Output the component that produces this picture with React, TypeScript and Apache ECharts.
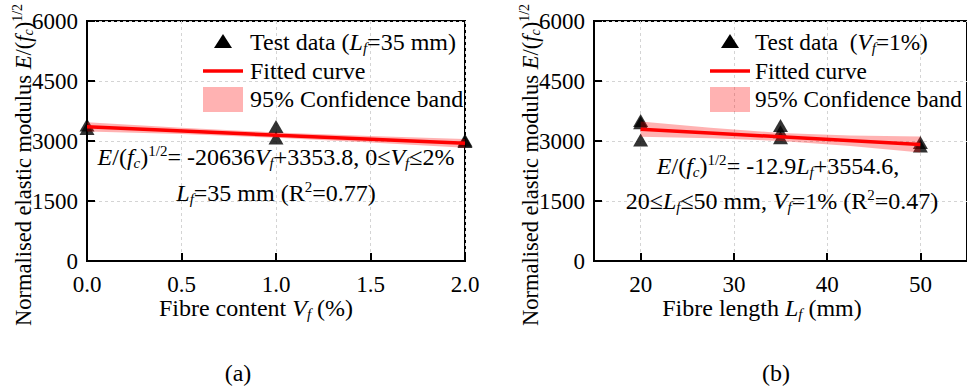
import React, { useEffect, useRef } from "react";
import * as echarts from "echarts";

// ---- data ----
// (a) fibre content
const vfX = [0, 0, 1, 1, 2, 2];
const vfY = [3400, 3310, 3360, 3075, 3020, 2990];
const vfLineX = [0, 2];
const vfLineY = [3353.8, 2941.1];
const vfBandX = [0, 0.5, 1, 1.5, 2];
const vfBandLow = [3240, 3175, 3080, 2965, 2830];
const vfBandHigh = [3470, 3330, 3215, 3125, 3050];
const vfTicks = [0, 0.5, 1, 1.5, 2];

// (b) fibre length
const lfX = [20, 20, 20, 35, 35, 35, 50, 50];
const lfY = [3510, 3455, 3025, 3390, 3230, 3080, 2960, 2875];
const lfLineX = [20, 50];
const lfLineY = [3296.6, 2909.6];
const lfBandX = [20, 27.5, 35, 42.5, 50];
const lfBandLow = [3106, 3070, 3003, 2876, 2710];
const lfBandHigh = [3487, 3330, 3203, 3136, 3110];
const lfTicks = [20, 30, 40, 50];

const FONT = "Liberation Serif";
const FS = 24;
const TICK_FS = 23;

function makeRich(size: number) {
  const small = Math.round(size * 0.63);
  const shift = Math.round(size * 0.5);
  return {
    n: { fontFamily: FONT, fontSize: size, color: "#000", fontStyle: "normal" },
    i: { fontFamily: FONT, fontSize: size, color: "#000", fontStyle: "italic" },
    sub: { fontFamily: FONT, fontSize: small, color: "#000", fontStyle: "italic", padding: [shift, 0, 0, 0] },
    sup: { fontFamily: FONT, fontSize: small, color: "#000", fontStyle: "normal", padding: [0, 0, shift, 0] },
  };
}
const rich = makeRich(FS);
const richY = makeRich(22.5);
const richLegB = makeRich(23.3);

const zip = (a: number[], b: number[]) => a.map((v, k) => [v, b[k]]);

function bandSeries(xIdx: number, xs: number[], lo: number[], hi: number[]) {
  return {
    type: "custom",
    xAxisIndex: xIdx,
    yAxisIndex: xIdx,
    z: 3,
    clip: true,
    data: xs.map((x, k) => [x, lo[k], hi[k]]),
    encode: { x: 0, y: [1, 2] },
    renderItem: (params: any, api: any) => {
      if (params.dataIndex !== 0) return null;
      const upper = xs.map((x, k) => api.coord([x, hi[k]]));
      const lower = xs.map((x, k) => api.coord([x, lo[k]])).reverse();
      return {
        type: "polygon",
        shape: { points: upper.concat(lower) },
        style: { fill: "rgba(255,0,0,0.3)" },
      };
    },
  };
}

function txt(x: number, y: number, text: string, align = "left", rotation = 0, r: any = rich, size = FS) {
  return {
    type: "text",
    x,
    y,
    rotation,
    z: 100,
    style: {
      text,
      rich: r,
      fontFamily: FONT,
      fontSize: size,
      fill: "#000",
      align,
      verticalAlign: "middle",
    },
  };
}

function legend(ix: number, tx: number, first: string, r: any, size: number) {
  return [
    {
      type: "polygon",
      z: 100,
      shape: { points: [[ix + 20, 34], [ix + 11, 48], [ix + 29, 48]] },
      style: { fill: "#000" },
    },
    {
      type: "line",
      z: 100,
      shape: { x1: ix, y1: 71, x2: ix + 40, y2: 71 },
      style: { stroke: "#ff0000", lineWidth: 3.5 },
    },
    {
      type: "rect",
      z: 100,
      shape: { x: ix, y: 87, width: 40, height: 25 },
      style: { fill: "rgba(255,0,0,0.3)" },
    },
    txt(tx, 42, first, "left", 0, r, size),
    txt(tx, 71, "{n|Fitted curve}", "left", 0, r, size),
    txt(tx, 99, "{n|95% Confidence band}", "left", 0, r, size),
  ];
}

function xAxis(idx: number, min: number, max: number, ticks: number[], fmt: (v: number) => string) {
  return {
    type: "value",
    gridIndex: idx,
    min,
    max,
    axisLine: { show: true, onZero: false, lineStyle: { color: "#000", width: 2 } },
    axisTick: { show: true, inside: true, length: 8, customValues: ticks, lineStyle: { color: "#000", width: 2 } },
    axisLabel: {
      customValues: ticks,
      margin: 12,
      fontFamily: FONT,
      fontSize: TICK_FS,
      color: "#000",
      formatter: fmt,
    },
    splitLine: { show: true, lineStyle: { color: "#d4d4d4", width: 1, type: [3, 3] } },
  };
}

function yAxis(idx: number) {
  return {
    type: "value",
    gridIndex: idx,
    min: 0,
    max: 6000,
    interval: 1500,
    axisLine: { show: true, onZero: false, lineStyle: { color: "#000", width: 2 } },
    axisTick: { show: true, inside: true, length: 8, lineStyle: { color: "#000", width: 2 } },
    axisLabel: { margin: 9, fontFamily: FONT, fontSize: TICK_FS, color: "#000", formatter: (v: number) => String(v) },
    splitLine: { show: true, lineStyle: { color: "#d4d4d4", width: 1, type: [3, 3] } },
  };
}

export default function App() {
  const ref = useRef<HTMLDivElement>(null);
  useEffect(() => {
    if (!ref.current) return;
    const chart = echarts.init(ref.current, undefined, { renderer: "svg" });
    chart.setOption({
      animation: false,
      backgroundColor: "#fff",
      textStyle: { fontFamily: FONT },
      grid: [
        { left: 87, top: 21, width: 378, height: 240, show: true, borderColor: "#000", borderWidth: 2, backgroundColor: "transparent" },
        { left: 594, top: 21, width: 378, height: 240, show: true, borderColor: "#000", borderWidth: 2, backgroundColor: "transparent" },
      ],
      xAxis: [
        xAxis(0, 0, 2, vfTicks, (v: number) => v.toFixed(1)),
        xAxis(1, 15, 55, lfTicks, (v: number) => String(v)),
      ],
      yAxis: [yAxis(0), yAxis(1)],
      series: [
        {
          type: "scatter",
          name: "Test data (Lf=35 mm)",
          xAxisIndex: 0,
          yAxisIndex: 0,
          symbol: "triangle",
          symbolSize: [15, 13],
          itemStyle: { color: "#000" },
          z: 2,
          data: zip(vfX, vfY),
        },
        bandSeries(0, vfBandX, vfBandLow, vfBandHigh),
        {
          type: "line",
          name: "Fitted curve",
          xAxisIndex: 0,
          yAxisIndex: 0,
          symbol: "none",
          z: 4,
          lineStyle: { color: "#ff0000", width: 3.5 },
          data: zip(vfLineX, vfLineY),
        },
        {
          type: "scatter",
          name: "Test data (Vf=1%)",
          xAxisIndex: 1,
          yAxisIndex: 1,
          symbol: "triangle",
          symbolSize: [15, 13],
          itemStyle: { color: "#000" },
          z: 2,
          data: zip(lfX, lfY),
        },
        bandSeries(1, lfBandX, lfBandLow, lfBandHigh),
        {
          type: "line",
          name: "Fitted curve (b)",
          xAxisIndex: 1,
          yAxisIndex: 1,
          symbol: "none",
          z: 4,
          lineStyle: { color: "#ff0000", width: 3.5 },
          data: zip(lfLineX, lfLineY),
        },
      ],
      graphic: [
        ...legend(203, 250, "{n|Test data (}{i|L}{sub|f}{n|=35 mm)}", rich, FS),
        ...legend(710, 755, "{n|Test data  (}{i|V}{sub|f}{n|=1%)}", richLegB, 23.3),
        txt(276, 157, "{i|E}{n|/(}{i|f}{sub|c}{n|)}{sup|1/2}{n|= -20636}{i|V}{sub|f}{n|+3353.8, 0≤}{i|V}{sub|f}{n|≤2%}", "center"),
        txt(276, 193, "{i|L}{sub|f}{n|=35 mm (R}{sup|2}{n|=0.77)}", "center"),
        txt(778, 166, "{i|E}{n|/(}{i|f}{sub|c}{n|)}{sup|1/2}{n|= -12.9}{i|L}{sub|f}{n|+3554.6,}", "center"),
        txt(782, 201, "{n|20≤}{i|L}{sub|f}{n|≤50 mm, }{i|V}{sub|f}{n|=1% (R}{sup|2}{n|=0.47)}", "center"),
        txt(256, 308, "{n|Fibre content }{i|V}{sub|f}{n| (%)}", "center"),
        txt(762, 308, "{n|Fibre length }{i|L}{sub|f}{n| (mm)}", "center"),
        txt(23, 165, "{n|Normalised elastic modulus }{i|E}{n|/(}{i|f}{sub|c}{n|)}{sup|1/2}", "center", Math.PI / 2, richY, 22.5),
        txt(530, 165, "{n|Normalised elastic modulus }{i|E}{n|/(}{i|f}{sub|c}{n|)}{sup|1/2}", "center", Math.PI / 2, richY, 22.5),
        txt(238, 373, "{n|(a)}", "center"),
        txt(776, 373, "{n|(b)}", "center"),
      ],
    });
    return () => chart.dispose();
  }, []);
  return (
    <div
      ref={ref}
      style={{ position: "fixed", left: 0, top: 0, width: 967, height: 387, background: "#fff" }}
    />
  );
}
